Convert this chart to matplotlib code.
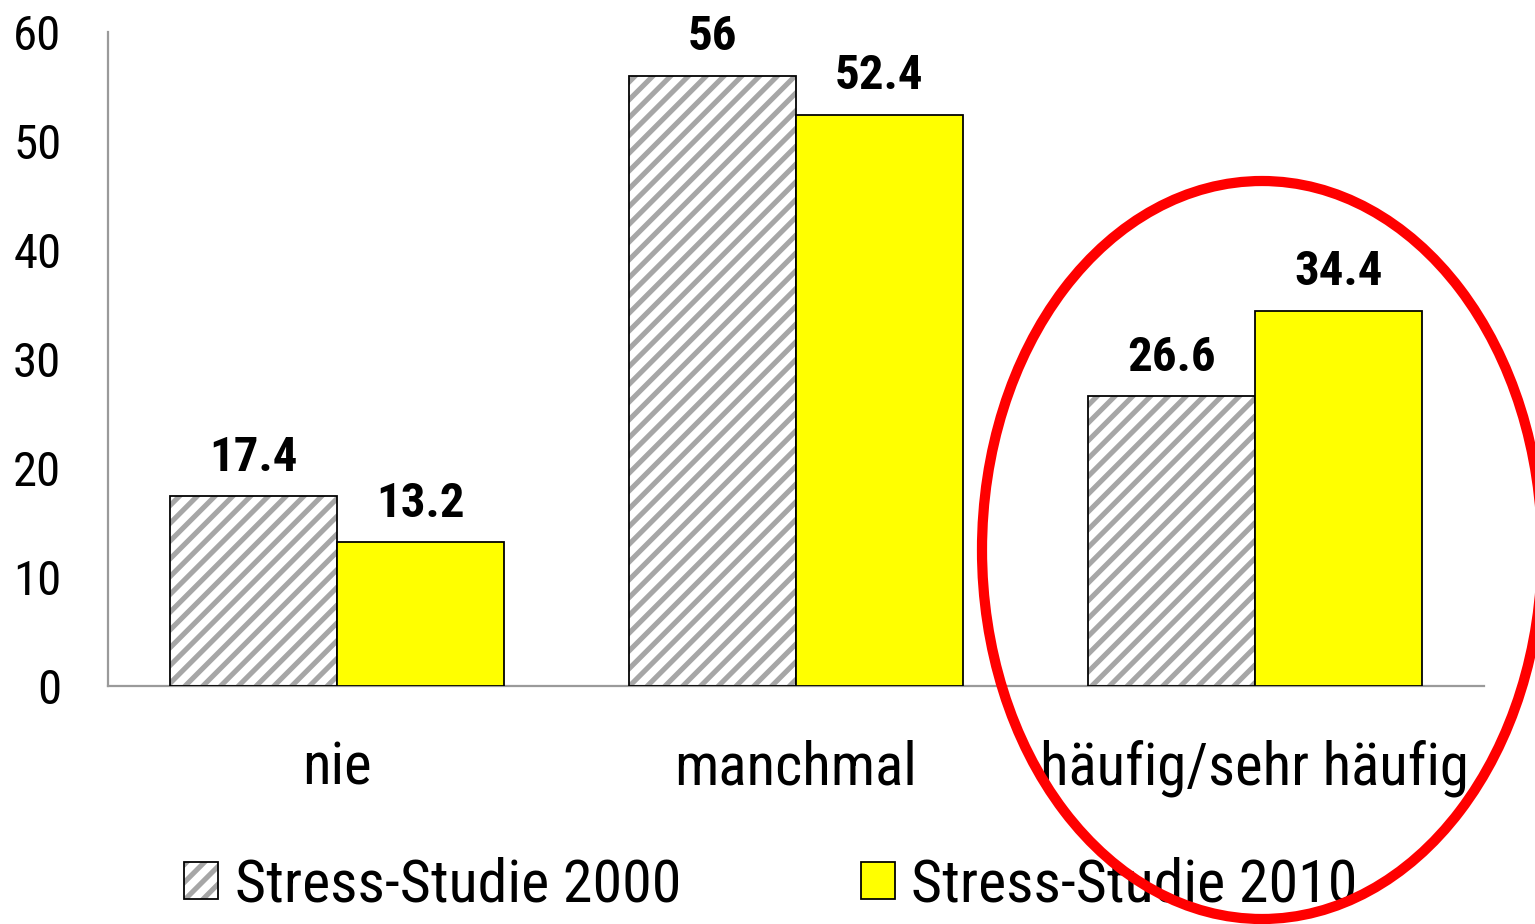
import matplotlib
matplotlib.use("Agg")
import matplotlib.pyplot as plt
from matplotlib.patches import Ellipse, Patch
from matplotlib.legend_handler import HandlerTuple
import numpy as np

categories = ["nie", "manchmal", "häufig/sehr häufig"]
series_names = ["Stress-Studie 2000", "Stress-Studie 2010"]
values_2000 = [17.4, 56, 26.6]
values_2010 = [13.2, 52.4, 34.4]
yticks = [0, 10, 20, 30, 40, 50, 60]

plt.rcParams["font.family"] = ["Roboto Condensed", "DejaVu Sans"]
plt.rcParams["hatch.linewidth"] = 2.3

DPI = 160
fig = plt.figure(figsize=(1535 / DPI, 924 / DPI), dpi=DPI)
ax = fig.add_axes([108 / 1535, 1 - 686 / 924, (1484 - 108) / 1535, (686 - 32) / 924])

x = np.arange(len(categories))
w = 0.364
hatch_gray = "#A6A6A6"

ax.bar(x - w / 2, values_2000, w, color="white", edgecolor=hatch_gray, hatch="///", linewidth=0, zorder=2)
ax.bar(x - w / 2, values_2000, w, color="none", edgecolor="black", linewidth=0.8, zorder=3)
ax.bar(x + w / 2, values_2010, w, color="#FFFF00", edgecolor="black", linewidth=0.8, zorder=3)

for xs, vals in ((x - w / 2, values_2000), (x + w / 2, values_2010)):
    for xi, v in zip(xs, vals):
        ax.annotate(f"{v:g}", (xi, v), xytext=(0, 7), textcoords="offset points",
                    ha="center", va="bottom", fontsize=22, fontweight="bold")

ax.set_xlim(-0.5, 2.5)
ax.set_ylim(0, 60)
ax.set_yticks(yticks)
ax.set_yticklabels([str(t) for t in yticks], fontsize=22)
ax.set_xticks(x)
ax.set_xticklabels(categories, fontsize=26.5)
ax.tick_params(axis="both", length=0)
ax.tick_params(axis="y", pad=21)
ax.tick_params(axis="x", pad=24)
for s in ["top", "right"]:
    ax.spines[s].set_visible(False)
for s in ["left", "bottom"]:
    ax.spines[s].set_color("#9A9A9A")
    ax.spines[s].set_linewidth(1.0)

h_hatch = Patch(facecolor="white", edgecolor=hatch_gray, hatch="///", linewidth=0)
h_edge = Patch(facecolor="none", edgecolor="black", linewidth=0.8)
h_yellow = Patch(facecolor="#FFFF00", edgecolor="black", linewidth=0.8)
leg = fig.legend([(h_hatch, h_edge), h_yellow], series_names, loc="center",
                 bbox_to_anchor=(771 / 1535, 1 - 885 / 924),
                 handler_map={tuple: HandlerTuple(ndivide=1, pad=0)},
                 ncol=2, frameon=False, fontsize=27, handlelength=0.56, handleheight=0.56,
                 handletextpad=0.28, columnspacing=3.0)

ell = Ellipse((1262 / 1535, 1 - 550 / 924), 560 / 1535, 738 / 924, transform=fig.transFigure,
              fill=False, edgecolor="#FF0000", linewidth=4.6, zorder=10)
fig.patches.append(ell)

fig.savefig("out.png", dpi=DPI)
